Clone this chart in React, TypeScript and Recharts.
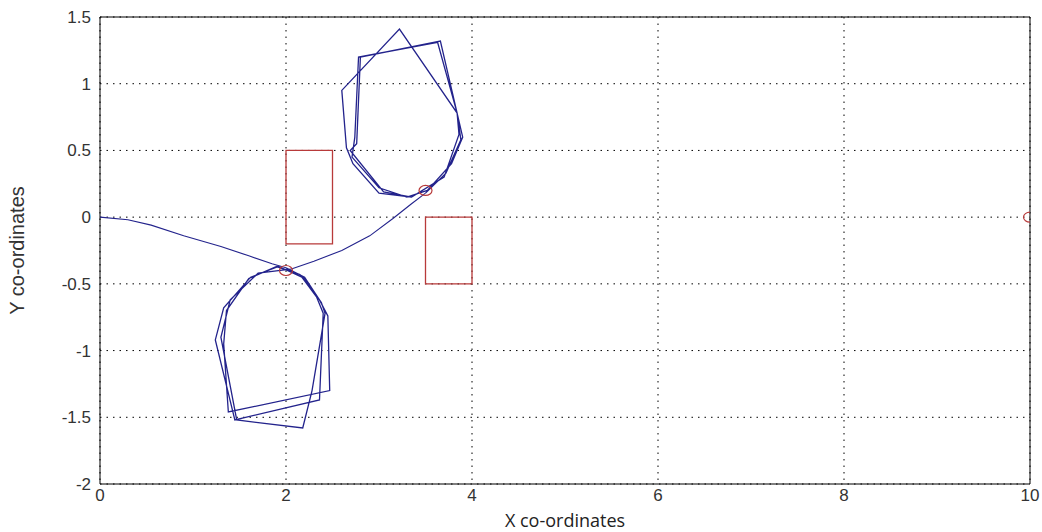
import React from 'react';
import {
  ComposedChart,
  Scatter,
  XAxis,
  YAxis,
  CartesianGrid,
  ReferenceArea,
  ReferenceLine,
  Label,
} from 'recharts';

// Approach path from the start point to the first target
const approachPath = [
  { x: 0, y: 0 }, { x: 0.3, y: -0.02 }, { x: 0.55, y: -0.06 }, { x: 0.9, y: -0.14 },
  { x: 1.3, y: -0.22 }, { x: 1.6, y: -0.29 }, { x: 1.85, y: -0.35 }, { x: 2.0, y: -0.38 },
];

// Orbits around the lower target
const lowerLoopPath = [
  { x: 2.0, y: -0.38 }, { x: 2.2, y: -0.45 }, { x: 2.36, y: -0.62 }, { x: 2.45, y: -0.74 },
  { x: 2.47, y: -1.3 }, { x: 1.38, y: -1.46 }, { x: 1.33, y: -0.95 }, { x: 1.36, y: -0.7 },
  { x: 1.6, y: -0.46 }, { x: 1.9, y: -0.37 },
  { x: 2.15, y: -0.43 }, { x: 2.33, y: -0.6 }, { x: 2.4, y: -0.72 }, { x: 2.36, y: -1.37 },
  { x: 1.45, y: -1.52 }, { x: 1.24, y: -0.92 }, { x: 1.33, y: -0.68 }, { x: 1.62, y: -0.45 },
  { x: 1.92, y: -0.37 },
  { x: 2.2, y: -0.46 }, { x: 2.38, y: -0.64 }, { x: 2.42, y: -0.72 }, { x: 2.28, y: -1.3 },
  { x: 2.18, y: -1.58 }, { x: 1.47, y: -1.52 }, { x: 1.3, y: -0.9 }, { x: 1.4, y: -0.62 },
  { x: 1.7, y: -0.42 }, { x: 2.05, y: -0.39 },
];

// Connector from the lower target to the upper target
const connectorPath = [
  { x: 2.05, y: -0.39 }, { x: 2.3, y: -0.33 }, { x: 2.6, y: -0.25 }, { x: 2.9, y: -0.14 },
  { x: 3.15, y: -0.01 }, { x: 3.35, y: 0.1 }, { x: 3.5, y: 0.18 },
];

// Orbits around the upper target
const upperLoopPath = [
  { x: 3.5, y: 0.18 }, { x: 3.72, y: 0.33 }, { x: 3.88, y: 0.58 }, { x: 3.84, y: 0.78 },
  { x: 3.63, y: 1.31 }, { x: 2.78, y: 1.2 }, { x: 2.74, y: 0.6 }, { x: 2.71, y: 0.45 },
  { x: 3.0, y: 0.22 }, { x: 3.3, y: 0.15 }, { x: 3.52, y: 0.2 },
  { x: 3.78, y: 0.4 }, { x: 3.9, y: 0.6 }, { x: 3.66, y: 1.32 }, { x: 2.8, y: 1.2 },
  { x: 2.76, y: 0.55 }, { x: 2.69, y: 0.5 }, { x: 3.05, y: 0.19 }, { x: 3.35, y: 0.15 },
  { x: 3.7, y: 0.3 }, { x: 3.86, y: 0.62 }, { x: 3.84, y: 0.78 }, { x: 3.22, y: 1.41 },
  { x: 2.6, y: 0.95 }, { x: 2.65, y: 0.52 }, { x: 2.72, y: 0.4 }, { x: 3.0, y: 0.18 },
  { x: 3.35, y: 0.15 },
];

// Targets (red circles)
const targets = [
  { x: 2, y: -0.4 },
  { x: 3.5, y: 0.2 },
  { x: 10, y: 0 },
];

// Obstacles (red rectangles)
const obstacles = [
  { x1: 2, x2: 2.5, y1: -0.2, y2: 0.5 },
  { x1: 3.5, x2: 4, y1: -0.5, y2: 0 },
];

const xTicks = [0, 2, 4, 6, 8, 10];
const yTicks = [-2, -1.5, -1, -0.5, 0, 0.5, 1, 1.5];

const BLUE = '#23238c';
const RED = '#b83a3a';

const NoDot = () => <g />;

const TargetShape = (props: any) => (
  <ellipse cx={props.cx} cy={props.cy} rx={6.5} ry={5} fill="none" stroke={RED} strokeWidth={1.2} />
);

const YLabel = (props: any) => {
  const vb = props.viewBox || { x: 0, y: 0, width: 0, height: 0 };
  const cx = vb.x + 17;
  const cy = vb.y + vb.height / 2;
  return (
    <text
      x={cx}
      y={cy}
      transform={`rotate(-90, ${cx}, ${cy})`}
      textAnchor="middle"
      dominantBaseline="central"
      fontFamily="'Liberation Sans Narrow', 'Liberation Sans', Arial, sans-serif"
      fontSize={20}
      fill="#333"
    >
      Y co-ordinates
    </text>
  );
};

const tickStyle = { fontFamily: "'Liberation Sans', Arial, sans-serif", fontSize: 17, fill: '#333' };

export default function App() {
  return (
    <div style={{ position: 'absolute', left: 0, top: 0, width: 1042, height: 532, background: '#fff' }}>
      <ComposedChart
        width={1042}
        height={532}
        margin={{ top: 17, right: 12, left: 0, bottom: 0 }}
      >
        <CartesianGrid stroke="#000" strokeDasharray="1.5 5" strokeWidth={1} />
        <XAxis
          type="number"
          dataKey="x"
          domain={[0, 10]}
          ticks={xTicks}
          allowDataOverflow
          height={48}
          tickLine={false}
          tickSize={3}
          tick={tickStyle}
          axisLine={{ stroke: '#000' }}
        >
          <Label
            value="X co-ordinates"
            position="insideBottom"
            offset={5}
            style={{ fontFamily: "'Open Sans', 'Noto Sans', sans-serif", fontSize: 18, fill: '#222' }}
          />
        </XAxis>
        <YAxis
          type="number"
          dataKey="y"
          domain={[-2, 1.5]}
          ticks={yTicks}
          allowDataOverflow
          width={100}
          tickLine={false}
          tickSize={7}
          tick={tickStyle}
          axisLine={{ stroke: '#000' }}
        >
          <Label content={<YLabel />} />
        </YAxis>
        <ReferenceLine y={1.5} stroke="#000" />
        <ReferenceLine x={10} stroke="#000" />
        {obstacles.map((o, i) => (
          <ReferenceArea
            key={i}
            x1={o.x1}
            x2={o.x2}
            y1={o.y1}
            y2={o.y2}
            fill="none"
            fillOpacity={0}
            stroke={RED}
            strokeWidth={1.3}
          />
        ))}
        <Scatter data={approachPath} line={{ stroke: BLUE, strokeWidth: 1.1 }} shape={NoDot} isAnimationActive={false} />
        <Scatter data={lowerLoopPath} line={{ stroke: BLUE, strokeWidth: 1.3 }} shape={NoDot} isAnimationActive={false} />
        <Scatter data={connectorPath} line={{ stroke: BLUE, strokeWidth: 1.1 }} shape={NoDot} isAnimationActive={false} />
        <Scatter data={upperLoopPath} line={{ stroke: BLUE, strokeWidth: 1.3 }} shape={NoDot} isAnimationActive={false} />
        <Scatter data={targets} shape={TargetShape} isAnimationActive={false} />
      </ComposedChart>
    </div>
  );
}
